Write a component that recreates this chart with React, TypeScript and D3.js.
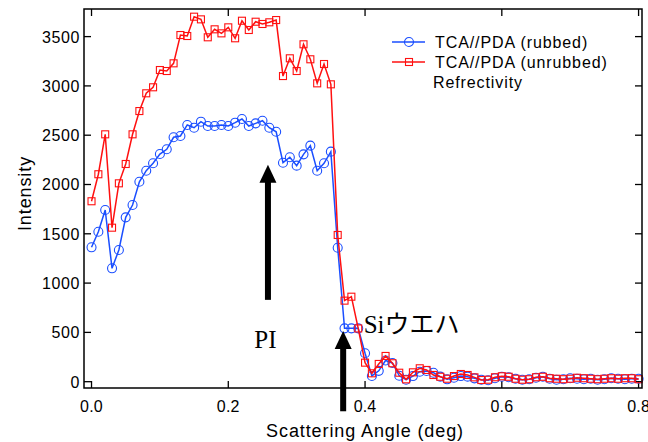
import React, { useEffect, useRef } from 'react';
import * as d3 from 'd3';

// scattering angle (deg), sampled every 0.01
const angles = [
  0.00, 0.01, 0.02, 0.03, 0.04, 0.05, 0.06, 0.07, 0.08, 0.09,
  0.10, 0.11, 0.12, 0.13, 0.14, 0.15, 0.16, 0.17, 0.18, 0.19,
  0.20, 0.21, 0.22, 0.23, 0.24, 0.25, 0.26, 0.27, 0.28, 0.29,
  0.30, 0.31, 0.32, 0.33, 0.34, 0.35, 0.36, 0.37, 0.38, 0.39,
  0.40, 0.41, 0.42, 0.43, 0.44, 0.45, 0.46, 0.47, 0.48, 0.49,
  0.50, 0.51, 0.52, 0.53, 0.54, 0.55, 0.56, 0.57, 0.58, 0.59,
  0.60, 0.61, 0.62, 0.63, 0.64, 0.65, 0.66, 0.67, 0.68, 0.69,
  0.70, 0.71, 0.72, 0.73, 0.74, 0.75, 0.76, 0.77, 0.78, 0.79,
  0.80,
];

const rubbed = [
  1363, 1521, 1741, 1150, 1336, 1667, 1792, 2028, 2140, 2215,
  2309, 2357, 2479, 2492, 2604, 2576, 2637, 2593, 2593, 2604,
  2593, 2627, 2664, 2593, 2620, 2647, 2576, 2535, 2221, 2276,
  2191, 2306, 2394, 2140, 2215, 2333, 1359, 541, 541, 541,
  288, 58, 110, 215, 190, 60, 20, 57, 101, 108,
  91, 51, 24, 40, 57, 51, 34, 20, 15, 35,
  50, 45, 30, 20, 25, 40, 50, 30, 20, 25,
  35, 30, 25, 30, 20, 25, 35, 30, 25, 30,
  30,
];

const unrubbed = [
  1830, 2104, 2509, 1562, 2012, 2208, 2509, 2745, 2925, 2986,
  3161, 3151, 3229, 3516, 3506, 3702, 3675, 3493, 3574, 3533,
  3594, 3483, 3661, 3567, 3651, 3628, 3645, 3668, 3100, 3280,
  3151, 3422, 3270, 3026, 3222, 3016, 1488, 822, 862, 540,
  193, 85, 180, 261, 187, 91, 24, 95, 136, 119,
  68, 50, 30, 57, 78, 68, 44, 17, 20, 45,
  55, 50, 30, 20, 25, 45, 50, 35, 30, 25,
  30, 40, 35, 30, 25, 30, 35, 30, 35, 35,
  25,
];

const xTicks = [0, 0.2, 0.4, 0.6, 0.8];
const yTicks = [0, 500, 1000, 1500, 2000, 2500, 3000, 3500];
const legendLabels = ['TCA//PDA (rubbed)', 'TCA//PDA (unrubbed)', 'Refrectivity'];

// arrows: angle, tip intensity, tail intensity
const arrows = [
  { x: 0.258, tip: 2200, tail: 830 },
  { x: 0.368, tip: 515, tail: -300 },
];
const notes = [
  { text: 'PI', x: 0.238, y: 340 },
  { text: 'Siウエハ', x: 0.398, y: 495 },
];

const BLUE = '#1a4eff';
const RED = '#ff1010';
const SANS = '"Liberation Sans", Arial, sans-serif';

export default function App() {
  const ref = useRef<HTMLDivElement>(null);

  useEffect(() => {
    document.body.style.margin = '0';
    const width = 648;
    const height = 442;
    const margin = { top: 9, right: 6, bottom: 54, left: 84 };

    d3.select(ref.current).selectAll('*').remove();
    const svg = d3.select(ref.current)
      .append('svg')
      .attr('width', width)
      .attr('height', height)
      .style('display', 'block')
      .style('font-family', SANS);

    const x = d3.scaleLinear()
      .domain([-0.011, 0.805])
      .range([margin.left, width - margin.right]);
    const y = d3.scaleLinear()
      .domain([-64, 3780])
      .range([height - margin.bottom, margin.top]);

    const x0 = margin.left, x1 = width - margin.right;
    const y0 = height - margin.bottom, y1 = margin.top;

    // ticks, inward on all four sides
    const tl = 7;
    const tickG = svg.append('g').attr('stroke', '#000').attr('stroke-width', 1.3);
    xTicks.forEach(t => {
      tickG.append('line').attr('x1', x(t)).attr('x2', x(t)).attr('y1', y0).attr('y2', y0 - tl);
      tickG.append('line').attr('x1', x(t)).attr('x2', x(t)).attr('y1', y1).attr('y2', y1 + tl);
    });
    yTicks.forEach(t => {
      tickG.append('line').attr('x1', x0).attr('x2', x0 + tl).attr('y1', y(t)).attr('y2', y(t));
      tickG.append('line').attr('x1', x1).attr('x2', x1 - tl).attr('y1', y(t)).attr('y2', y(t));
    });

    svg.append('g')
      .selectAll('text')
      .data(xTicks)
      .enter()
      .append('text')
      .attr('x', d => x(d))
      .attr('y', 412)
      .attr('text-anchor', 'middle')
      .attr('font-size', 16)
      .attr('letter-spacing', 0.2)
      .text(d => d3.format('.1f')(d));

    svg.append('g')
      .selectAll('text')
      .data(yTicks)
      .enter()
      .append('text')
      .attr('x', 80)
      .attr('y', d => y(d) + 6)
      .attr('text-anchor', 'end')
      .attr('font-size', 16)
      .attr('letter-spacing', 0.6)
      .text(d => String(d));

    // series
    const series = [
      { values: rubbed, color: BLUE, shape: 'circle' },
      { values: unrubbed, color: RED, shape: 'square' },
    ];
    const line = d3.line<number>()
      .x((_, i) => x(angles[i]))
      .y(d => y(d));

    series.forEach(s => {
      svg.append('path')
        .attr('d', line(s.values))
        .attr('fill', 'none')
        .attr('stroke', s.color)
        .attr('stroke-width', 1.5);
      const g = svg.append('g').attr('fill', 'none').attr('stroke', s.color).attr('stroke-width', 1.1);
      if (s.shape === 'circle') {
        g.selectAll('circle').data(s.values).enter().append('circle')
          .attr('cx', (_, i) => x(angles[i]))
          .attr('cy', d => y(d))
          .attr('r', 4.5);
      } else {
        g.selectAll('rect').data(s.values).enter().append('rect')
          .attr('x', (_, i) => x(angles[i]) - 3.5)
          .attr('y', d => y(d) - 3.5)
          .attr('width', 7)
          .attr('height', 7);
      }
    });

    // frame
    svg.append('rect')
      .attr('x', x0).attr('y', y1)
      .attr('width', x1 - x0).attr('height', y0 - y1)
      .attr('fill', 'none')
      .attr('stroke', '#000')
      .attr('stroke-width', 1.5);

    // arrows
    arrows.forEach(a => {
      const cx = x(a.x);
      const tipY = y(a.tip);
      const headH = 18;
      svg.append('rect')
        .attr('x', cx - 3).attr('y', tipY + headH - 1)
        .attr('width', 6).attr('height', y(a.tail) - tipY - headH + 1)
        .attr('fill', '#000');
      svg.append('path')
        .attr('d', `M${cx},${tipY} L${cx + 8.5},${tipY + headH} L${cx - 8.5},${tipY + headH} Z`)
        .attr('fill', '#000');
    });

    notes.forEach(n => {
      svg.append('text')
        .attr('x', x(n.x))
        .attr('y', y(n.y))
        .attr('font-family', '"Liberation Serif", "Noto Sans CJK JP", serif')
        .attr('font-size', 25)
        .text(n.text);
    });

    // legend
    const lg = svg.append('g').attr('transform', 'translate(392,42)');
    legendLabels.forEach((label, i) => {
      const row = lg.append('g').attr('transform', `translate(0,${i * 20})`);
      if (i < 2) {
        const c = i === 0 ? BLUE : RED;
        row.append('line').attr('x1', 0).attr('x2', 33).attr('stroke', c).attr('stroke-width', 1.5);
        if (i === 0) {
          row.append('circle').attr('cx', 17).attr('r', 4.5).attr('fill', 'none').attr('stroke', c).attr('stroke-width', 1.1);
        } else {
          row.append('rect').attr('x', 13.5).attr('y', -3.5).attr('width', 7).attr('height', 7)
            .attr('fill', 'none').attr('stroke', c).attr('stroke-width', 1.1);
        }
      }
      row.append('text')
        .attr('x', i < 2 ? 43 : 41)
        .attr('y', 6)
        .attr('font-size', 16)
        .attr('letter-spacing', 0.9)
        .text(label);
    });

    // axis titles
    svg.append('text')
      .attr('x', x((0 + 0.8) / 2))
      .attr('y', 437)
      .attr('text-anchor', 'middle')
      .attr('font-size', 18)
      .attr('letter-spacing', 0.9)
      .text('Scattering Angle (deg)');

    svg.append('text')
      .attr('transform', `translate(31,${(y0 + y1) / 2 - 5}) rotate(-90)`)
      .attr('text-anchor', 'middle')
      .attr('font-size', 18)
      .attr('letter-spacing', 0.9)
      .text('Intensity');
  }, []);

  return <div ref={ref} />;
}
